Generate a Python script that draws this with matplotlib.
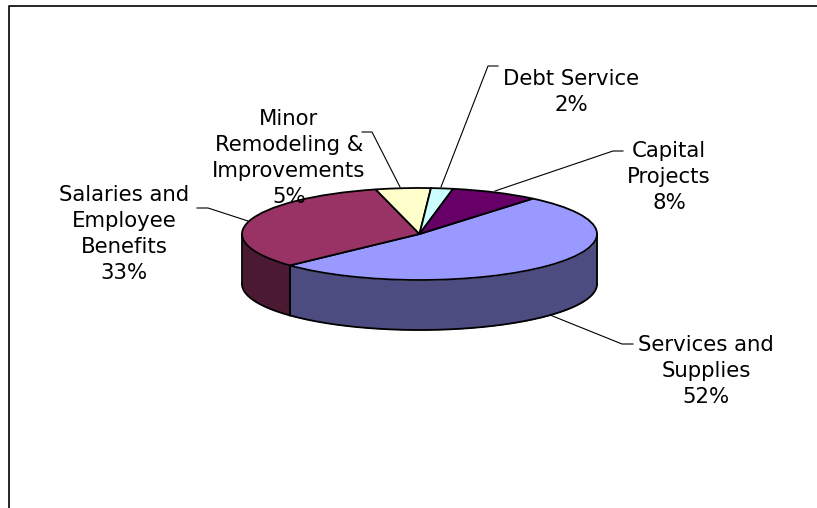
import matplotlib
matplotlib.use('Agg')
import numpy as np
import matplotlib.pyplot as plt

labels = ['Services and\nSupplies\n52%', 'Salaries and\nEmployee\nBenefits\n33%',
          'Minor\nRemodeling &\nImprovements\n5%', 'Debt Service\n2%', 'Capital\nProjects\n8%']
values = [52, 33, 5, 2, 8]
top_colors = ['#9999ff', '#993366', '#ffffcc', '#ccffff', '#660066']
side_colors = ['#4c4c80', '#4c1933', '#80805f', '#668080', '#330033']
label_pos = [(706, 371), (124, 234), (289, 158), (571, 92), (669, 177)]
leaders = [[(550, 315), (622, 344), (633, 344)],
           [(248, 221), (208, 208), (197, 208)],
           [(400, 187), (372, 132), (362, 132)],
           [(441, 187), (488, 66), (498, 66)],
           [(495, 191), (613, 151), (623, 151)]]

W, H = 817, 508
cx, cy, rx, ry, depth = 419.5, 234, 177.5, 46, 50
start = 50.3

fig = plt.figure(figsize=(W / 100, H / 100), dpi=100)

# pie lives in an axes scaled so a unit circle comes out as the flat ellipse
ax = fig.add_axes([0, 0, 1, 1])
ang = start
for v, c in zip(values, side_colors):
    a0 = ang - v * 3.6
    # only the part of the slice facing the viewer gets a wall
    t = np.radians(np.linspace(a0, ang, 200))
    t = t[np.sin(t) <= 0]
    if len(t) > 1:
        x = np.cos(t)
        y = np.sin(t)
        ax.fill_between(x, y, y - depth / ry, color=c, lw=0, zorder=1)
        ax.plot(x, y - depth / ry, color='black', lw=1.3, zorder=2)
        for i in (0, -1):
            ax.plot([x[i], x[i]], [y[i], y[i] - depth / ry], color='black', lw=1.3, zorder=2)
    ang = a0
ax.pie(values, startangle=start, counterclock=False, colors=top_colors, radius=1,
       wedgeprops={'edgecolor': 'black', 'linewidth': 1.3, 'zorder': 3})
ax.set_aspect('auto')
ax.set_xlim((0 - cx) / rx, (W - cx) / rx)
ax.set_ylim((cy - H) / ry, cy / ry)
ax.axis('off')

# pixel overlay for frame, leader lines and labels
ov = fig.add_axes([0, 0, 1, 1])
ov.set_xlim(0, W)
ov.set_ylim(H, 0)
ov.axis('off')
ov.patch.set_alpha(0)
ov.plot([9.5, 9.5, W], [H, 5.5, 5.5], color='black', lw=1.2)
for pts in leaders:
    ov.plot([p[0] for p in pts], [p[1] for p in pts], color='black', lw=0.8)
for lab, (x, y) in zip(labels, label_pos):
    ov.text(x, y, lab, ha='center', va='center', fontsize=15.3, linespacing=1.37, color='black')

fig.savefig('out.png', dpi=100)
